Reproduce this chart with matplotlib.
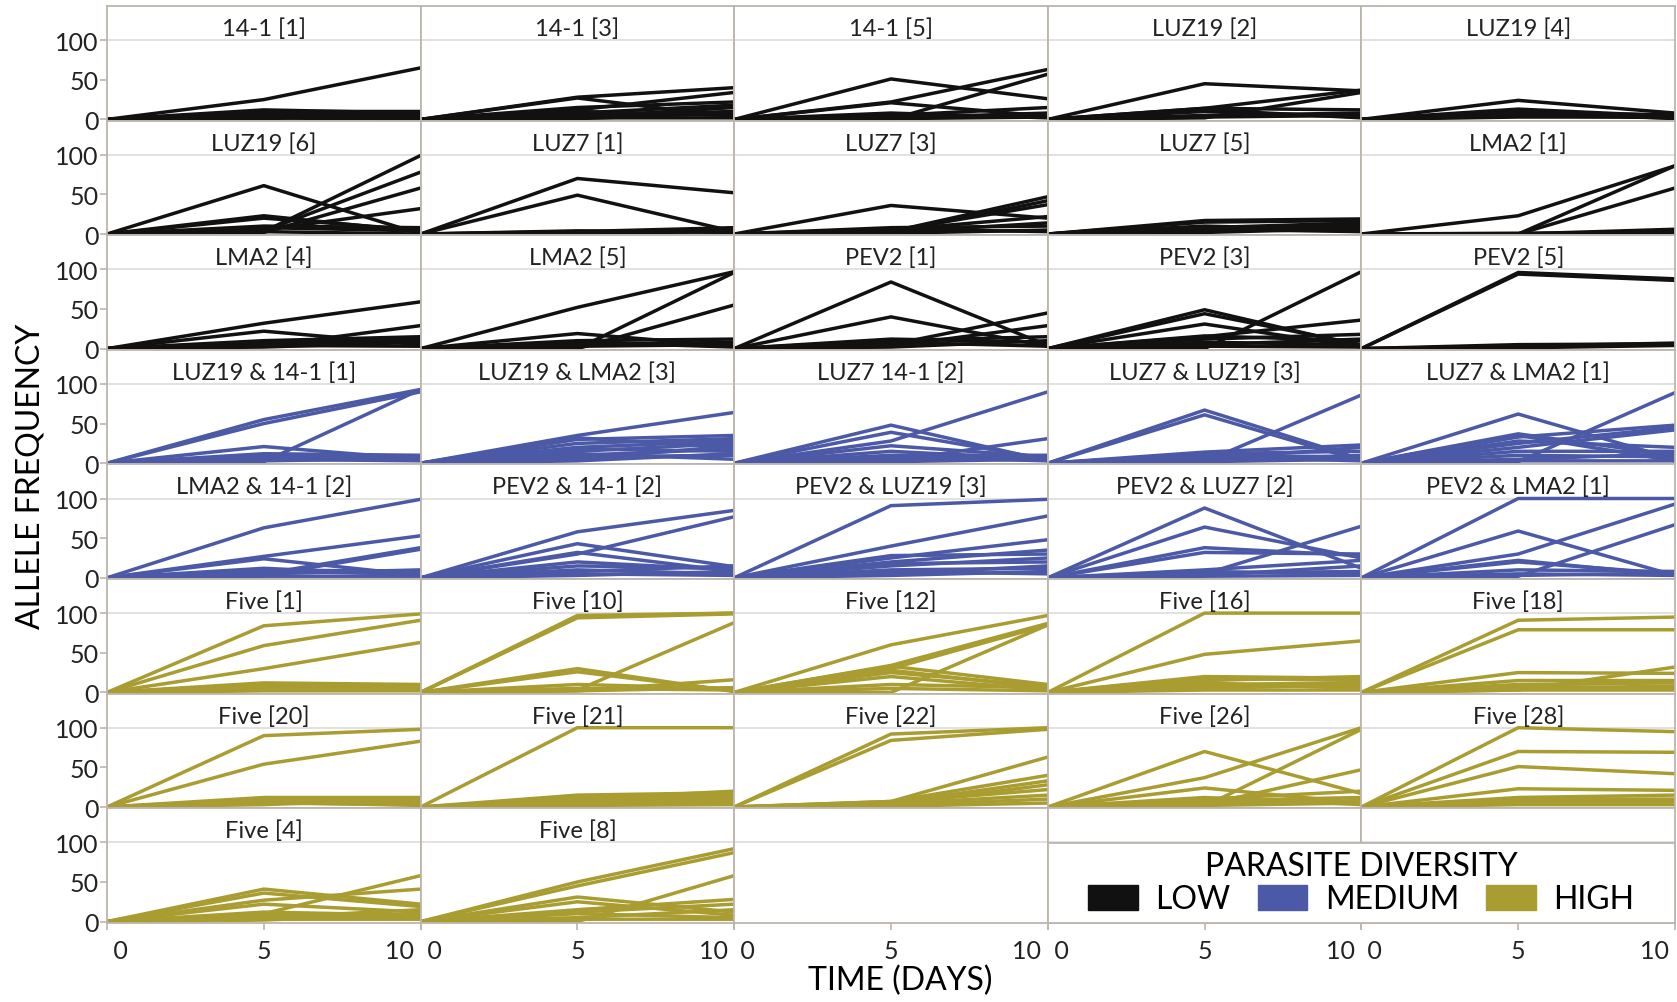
import matplotlib.pyplot as plt
from matplotlib.patches import Patch

plt.rcParams['font.family'] = ['Lato', 'DejaVu Sans']

days = [0, 5, 10]
group_colors = {'LOW': '#111111', 'MEDIUM': '#4b59a6', 'HIGH': '#a99d31'}

# allele frequency (%) at day 0, 5, 10 for each population
p_141_1 = [[0, 25, 65], [0, 12, 8], [0, 10, 10], [0, 8, 5], [0, 5, 9], [0, 3, 2], [0, 2, 0], [0, 1, 6]]
p_141_3 = [[0, 28, 40], [0, 27, 3], [0, 12, 34], [0, 15, 22], [0, 8, 18], [0, 5, 10], [0, 10, 5],
           [0, 3, 15], [0, 2, 2], [0, 1, 8]]
p_141_5 = [[0, 51, 26], [0, 22, 63], [0, 0, 57], [0, 21, 4], [0, 5, 15], [0, 2, 8], [0, 1, 3], [0, 8, 2]]
p_luz19_2 = [[0, 45, 36], [0, 14, 37], [0, 2, 34], [0, 14, 12], [0, 10, 3], [0, 5, 8], [0, 3, 5], [0, 12, 2]]
p_luz19_4 = [[0, 24, 8], [0, 13, 4], [0, 8, 6], [0, 5, 2], [0, 3, 3], [0, 10, 1]]

p_luz19_6 = [[0, 61, 0], [0, 3, 99], [0, 4, 78], [0, 2, 58], [0, 5, 32], [0, 23, 3], [0, 20, 5],
             [0, 10, 8], [0, 8, 4], [0, 3, 0]]
p_luz7_1 = [[0, 70, 52], [0, 49, 3], [0, 3, 8], [0, 2, 5], [0, 1, 3], [0, 4, 2]]
p_luz7_3 = [[0, 36, 20], [0, 3, 47], [0, 2, 42], [0, 4, 37], [0, 5, 22], [0, 2, 14], [0, 8, 10],
            [0, 6, 3], [0, 1, 5]]
p_luz7_5 = [[0, 17, 19], [0, 15, 17], [0, 8, 14], [0, 5, 10], [0, 10, 5], [0, 3, 12], [0, 6, 3], [0, 2, 7]]
p_lma2_1 = [[0, 23, 86], [0, 0, 86], [0, 0, 58], [0, 0, 6], [0, 1, 2]]

p_lma2_4 = [[0, 32, 59], [0, 22, 5], [0, 3, 29], [0, 10, 15], [0, 8, 12], [0, 5, 10], [0, 4, 3], [0, 2, 8]]
p_lma2_5 = [[0, 52, 97], [0, 0, 96], [0, 0, 55], [0, 19, 3], [0, 10, 12], [0, 5, 8], [0, 3, 5], [0, 8, 2]]
p_pev2_1 = [[0, 84, 4], [0, 40, 3], [0, 5, 45], [0, 3, 29], [0, 10, 15], [0, 12, 8], [0, 8, 3], [0, 2, 10]]
p_pev2_3 = [[0, 49, 3], [0, 44, 5], [0, 31, 2], [0, 15, 36], [0, 0, 97], [0, 16, 10], [0, 12, 18],
            [0, 8, 5], [0, 5, 12], [0, 3, 2]]
p_pev2_5 = [[0, 96, 88], [0, 94, 86], [0, 5, 6], [0, 3, 7], [0, 1, 4]]

p_luz19_141_1 = [[0, 55, 93], [0, 50, 90], [0, 2, 93], [0, 21, 5], [0, 12, 10], [0, 10, 5], [0, 8, 8],
                 [0, 5, 3], [0, 3, 6]]
p_luz19_lma2_3 = [[0, 35, 64], [0, 32, 20], [0, 25, 31], [0, 30, 35], [0, 20, 28], [0, 18, 15],
                  [0, 15, 25], [0, 10, 18], [0, 8, 10], [0, 5, 22], [0, 12, 5], [0, 3, 12]]
p_luz7_141_2 = [[0, 48, 3], [0, 39, 5], [0, 28, 90], [0, 22, 8], [0, 3, 31], [0, 15, 5], [0, 10, 10],
                [0, 8, 3], [0, 5, 8], [0, 2, 5]]
p_luz7_luz19_3 = [[0, 67, 5], [0, 61, 3], [0, 2, 86], [0, 14, 23], [0, 12, 15], [0, 10, 8], [0, 5, 20],
                  [0, 3, 10], [0, 8, 3], [0, 2, 5]]
p_luz7_lma2_1 = [[0, 62, 5], [0, 35, 3], [0, 37, 10], [0, 33, 48], [0, 25, 45], [0, 20, 42], [0, 2, 89],
                 [0, 28, 20], [0, 15, 15], [0, 10, 8], [0, 5, 12], [0, 3, 3]]

p_lma2_141_2 = [[0, 63, 99], [0, 27, 53], [0, 24, 3], [0, 5, 38], [0, 3, 36], [0, 10, 8], [0, 8, 5],
                [0, 12, 3], [0, 5, 10], [0, 2, 2]]
p_pev2_141_2 = [[0, 58, 85], [0, 43, 14], [0, 30, 77], [0, 32, 8], [0, 20, 10], [0, 15, 12], [0, 10, 5],
                [0, 8, 15], [0, 5, 3], [0, 3, 8]]
p_pev2_luz19_3 = [[0, 91, 99], [0, 40, 78], [0, 25, 48], [0, 28, 30], [0, 20, 35], [0, 18, 20],
                  [0, 15, 25], [0, 10, 12], [0, 5, 15], [0, 8, 5], [0, 3, 8]]
p_pev2_luz7_2 = [[0, 88, 12], [0, 64, 25], [0, 38, 28], [0, 32, 30], [0, 5, 65], [0, 10, 22], [0, 8, 5],
                 [0, 3, 15], [0, 6, 8], [0, 2, 3]]
p_pev2_lma2_1 = [[0, 100, 100], [0, 59, 3], [0, 30, 93], [0, 2, 67], [0, 20, 5], [0, 22, 3], [0, 10, 8],
                 [0, 5, 3], [0, 3, 6]]

p_five_1 = [[0, 84, 99], [0, 59, 91], [0, 30, 63], [0, 10, 8], [0, 12, 10], [0, 8, 5], [0, 5, 3],
            [0, 3, 9], [0, 6, 7], [0, 2, 2]]
p_five_10 = [[0, 97, 100], [0, 95, 100], [0, 94, 99], [0, 30, 1], [0, 26, 2], [0, 3, 88], [0, 2, 16],
             [0, 10, 5], [0, 5, 3], [0, 2, 6]]
p_five_12 = [[0, 60, 97], [0, 34, 87], [0, 30, 85], [0, 0, 85], [0, 33, 10], [0, 28, 5], [0, 25, 8],
             [0, 20, 3], [0, 10, 6], [0, 5, 2]]
p_five_16 = [[0, 100, 100], [0, 48, 65], [0, 20, 18], [0, 18, 15], [0, 15, 20], [0, 10, 12], [0, 8, 8],
             [0, 12, 5], [0, 5, 10], [0, 3, 3]]
p_five_18 = [[0, 91, 95], [0, 79, 79], [0, 25, 24], [0, 3, 32], [0, 15, 15], [0, 10, 12], [0, 8, 5],
             [0, 5, 8], [0, 3, 3]]

p_five_20 = [[0, 90, 98], [0, 54, 83], [0, 12, 12], [0, 10, 5], [0, 8, 8], [0, 5, 3], [0, 3, 10], [0, 6, 2]]
p_five_21 = [[0, 100, 100], [0, 15, 18], [0, 12, 15], [0, 10, 20], [0, 8, 12], [0, 6, 8], [0, 4, 5],
             [0, 3, 10], [0, 2, 3]]
p_five_22 = [[0, 92, 100], [0, 84, 98], [0, 7, 63], [0, 7, 40], [0, 5, 33], [0, 3, 28], [0, 6, 22],
             [0, 4, 15], [0, 2, 10], [0, 1, 5]]
p_five_26 = [[0, 70, 17], [0, 37, 100], [0, 1, 98], [0, 24, 5], [0, 3, 47], [0, 10, 20], [0, 8, 12],
             [0, 5, 8], [0, 12, 3], [0, 2, 5]]
p_five_28 = [[0, 100, 95], [0, 70, 69], [0, 51, 42], [0, 23, 21], [0, 12, 15], [0, 10, 10], [0, 8, 5],
             [0, 5, 8], [0, 3, 3]]

p_five_4 = [[0, 41, 22], [0, 36, 19], [0, 27, 41], [0, 22, 12], [0, 10, 58], [0, 12, 8], [0, 8, 5],
            [0, 5, 15], [0, 3, 3], [0, 2, 10]]
p_five_8 = [[0, 50, 92], [0, 45, 87], [0, 0, 58], [0, 31, 12], [0, 25, 8], [0, 15, 28], [0, 12, 22],
            [0, 10, 5], [0, 5, 15], [0, 3, 3]]

titles = ['14-1 [1]', '14-1 [3]', '14-1 [5]', 'LUZ19 [2]', 'LUZ19 [4]',
          'LUZ19 [6]', 'LUZ7 [1]', 'LUZ7 [3]', 'LUZ7 [5]', 'LMA2 [1]',
          'LMA2 [4]', 'LMA2 [5]', 'PEV2 [1]', 'PEV2 [3]', 'PEV2 [5]',
          'LUZ19 & 14-1 [1]', 'LUZ19 & LMA2 [3]', 'LUZ7 14-1 [2]', 'LUZ7 & LUZ19 [3]', 'LUZ7 & LMA2 [1]',
          'LMA2 & 14-1 [2]', 'PEV2 & 14-1 [2]', 'PEV2 & LUZ19 [3]', 'PEV2 & LUZ7 [2]', 'PEV2 & LMA2 [1]',
          'Five [1]', 'Five [10]', 'Five [12]', 'Five [16]', 'Five [18]',
          'Five [20]', 'Five [21]', 'Five [22]', 'Five [26]', 'Five [28]',
          'Five [4]', 'Five [8]']
groups = ['LOW'] * 15 + ['MEDIUM'] * 10 + ['HIGH'] * 12
panels = [p_141_1, p_141_3, p_141_5, p_luz19_2, p_luz19_4,
          p_luz19_6, p_luz7_1, p_luz7_3, p_luz7_5, p_lma2_1,
          p_lma2_4, p_lma2_5, p_pev2_1, p_pev2_3, p_pev2_5,
          p_luz19_141_1, p_luz19_lma2_3, p_luz7_141_2, p_luz7_luz19_3, p_luz7_lma2_1,
          p_lma2_141_2, p_pev2_141_2, p_pev2_luz19_3, p_pev2_luz7_2, p_pev2_lma2_1,
          p_five_1, p_five_10, p_five_12, p_five_16, p_five_18,
          p_five_20, p_five_21, p_five_22, p_five_26, p_five_28,
          p_five_4, p_five_8]

W, H = 1677, 1003
x0, y0 = 107, 7
cw, rh = 313.6, 114.6
nrows, ncols = 8, 5
frame_col = '#bcb5ad'

fig = plt.figure(figsize=(W / 100, H / 100), dpi=100)


def make_ax(r, c):
    ax = fig.add_axes([(x0 + c * cw) / W, 1 - (y0 + (r + 1) * rh) / H, cw / W, rh / H])
    ax.set_xlim(0, 10)
    ax.set_ylim(-1.5, 143)
    ax.axhline(100, color='#dcdcdc', lw=1.2, zorder=0)
    for s in ax.spines.values():
        s.set_color(frame_col)
        s.set_linewidth(1.3)
    ax.set_xticks([0, 5, 10], [' 0', '5', '10 '])
    ax.set_yticks([0, 50, 100])
    ax.tick_params(colors=frame_col, labelcolor='#222222', labelsize=18, length=5, width=1.2)
    ax.tick_params(axis='x', pad=7)
    ax.tick_params(axis='y', pad=1)
    if c != 0:
        ax.tick_params(axis='y', left=False, labelleft=False)
    if r != nrows - 1:
        ax.tick_params(axis='x', bottom=False, labelbottom=False)
    else:
        labs = ax.get_xticklabels()
        labs[0].set_ha('left')
        labs[-1].set_ha('right')
    return ax


for i in range(nrows * ncols):
    r, c = divmod(i, ncols)
    ax = make_ax(r, c)
    if i < len(panels):
        col = group_colors[groups[i]]
        for allele in panels[i]:
            ax.plot(days, allele, color=col, lw=2.5)
        ax.text(5, 115, titles[i], ha='center', va='center', fontsize=17, color='#222222')

# legend box over the last two panels
lax = fig.add_axes([(x0 + 3 * cw) / W, 1 - (y0 + 8 * rh) / H, 2 * cw / W, 80 / H])
lax.set_xticks([])
lax.set_yticks([])
for s in lax.spines.values():
    s.set_color(frame_col)
    s.set_linewidth(1.3)
handles = [Patch(color=group_colors[g], label=g) for g in ['LOW', 'MEDIUM', 'HIGH']]
lax.legend(handles=handles, loc='center', ncol=3, frameon=False, title='PARASITE DIVERSITY',
           fontsize=23, title_fontsize=23, handlelength=1.55, handleheight=0.8,
           handletextpad=0.55, columnspacing=0.85, borderpad=0.1, labelspacing=0.1)

fig.text(0.018, 0.525, 'ALLELE FREQUENCY', rotation=90, ha='center', va='center', fontsize=23)
fig.text(0.537, 0.022, 'TIME (DAYS)', ha='center', va='center', fontsize=23)

fig.savefig('out.png', dpi=100)
